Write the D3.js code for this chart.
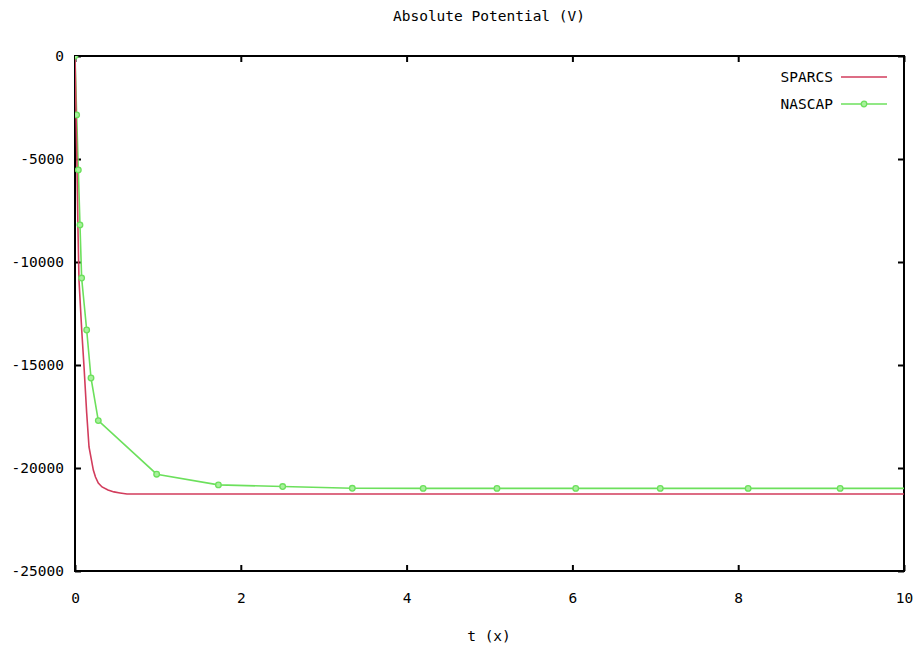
<!DOCTYPE html>
<html>
<head>
<meta charset="utf-8">
<script src="https://cdn.jsdelivr.net/npm/d3@7"></script>
<style>
  body { margin: 0; background: #fff; }
  text { font-family: "DejaVu Sans Mono", monospace; font-size: 14.5px; fill: #000; }
</style>
</head>
<body>
<div id="chart"></div>
<script>
// Data
const sparcsT = [0, 0.02, 0.036, 0.048, 0.081, 0.109, 0.141, 0.169, 0.221, 0.247, 0.281, 0.326, 0.398, 0.47, 0.543, 0.627, 10];
const sparcsV = [0, -4400, -8450, -10870, -13300, -15100, -17330, -18980, -20100, -20440, -20730, -20920, -21070, -21160, -21210, -21260, -21260];

const nascapT = [0, 0.02, 0.04, 0.06, 0.08, 0.141, 0.193, 0.281, 0.985, 1.73, 2.505, 3.345, 4.2, 5.09, 6.04, 7.06, 8.12, 9.23, 10.4];
const nascapV = [0, -2860, -5530, -8200, -10780, -13300, -15630, -17700, -20300, -20820, -20900, -20985, -20990, -20990, -20990, -20990, -20990, -20990, -20990];

const xTicks = [0, 2, 4, 6, 8, 10];
const yTicks = [0, -5000, -10000, -15000, -20000, -25000];
const seriesNames = ['SPARCS', 'NASCAP'];
const colors = ['#d23c5c', '#6ce05c'];

// Layout
const W = 918, H = 654;
const margin = { top: 56, right: 14, bottom: 83, left: 75 };
const width = W - margin.left - margin.right;
const height = H - margin.top - margin.bottom;

const svg = d3.select('#chart')
    .append('svg')
    .attr('width', W)
    .attr('height', H);

const g = svg.append('g')
    .attr('transform', `translate(${margin.left}, ${margin.top})`);

const xScale = d3.scaleLinear().domain([0, 10]).range([0, width]);
const yScale = d3.scaleLinear().domain([-25000, 0]).range([height, 0]);

// Clip path for the plot area
svg.append('defs').append('clipPath').attr('id', 'clip')
    .append('rect').attr('x', 0).attr('y', 0).attr('width', width).attr('height', height);

// Ticks on all four sides, pointing inward (gnuplot style)
const tickLen = 6;
g.append('g').attr('transform', `translate(0, ${height})`)
    .call(d3.axisBottom(xScale).tickValues(xTicks).tickSize(-tickLen).tickPadding(22).tickFormat(d3.format('d')));
g.append('g')
    .call(d3.axisTop(xScale).tickValues(xTicks).tickSize(-tickLen).tickFormat(''));
g.append('g')
    .call(d3.axisLeft(yScale).tickValues(yTicks).tickSize(-tickLen).tickPadding(11).tickFormat(d => d3.format('d')(d).replace('−', '-')));
g.append('g').attr('transform', `translate(${width}, 0)`)
    .call(d3.axisRight(yScale).tickValues(yTicks).tickSize(-tickLen).tickFormat(''));

g.selectAll('.domain').remove();
g.selectAll('.tick line').attr('stroke', '#000').attr('stroke-width', 2);
g.selectAll('.tick text').style('font-family', '"DejaVu Sans Mono", monospace').style('font-size', '14.5px').attr('fill', '#000');

// Frame
g.append('rect')
    .attr('x', 0).attr('y', 0)
    .attr('width', width).attr('height', height)
    .attr('fill', 'none')
    .attr('stroke', '#000')
    .attr('stroke-width', 2);

// Lines
const line = d3.line().x(d => xScale(d[0])).y(d => yScale(d[1]));
const sparcs = sparcsT.map((t, i) => [t, sparcsV[i]]);
const nascap = nascapT.map((t, i) => [t, nascapV[i]]);

const plot = g.append('g').attr('clip-path', 'url(#clip)');

plot.append('path')
    .datum(nascap)
    .attr('d', line)
    .attr('fill', 'none')
    .attr('stroke', colors[1])
    .attr('stroke-width', 1.6);

plot.append('path')
    .datum(sparcs)
    .attr('d', line)
    .attr('fill', 'none')
    .attr('stroke', colors[0])
    .attr('stroke-width', 1.6);

// NASCAP markers
plot.selectAll('.pt')
    .data(nascap)
    .enter().append('circle')
    .attr('class', 'pt')
    .attr('cx', d => xScale(d[0]))
    .attr('cy', d => yScale(d[1]))
    .attr('r', 2.8)
    .attr('fill', '#a8f09c')
    .attr('stroke', colors[1])
    .attr('stroke-width', 1.3);

// Legend
const legend = g.append('g').attr('transform', `translate(${width - 63}, 21)`);
seriesNames.forEach((name, i) => {
    const row = legend.append('g').attr('transform', `translate(0, ${i * 27})`);
    row.append('text')
        .text(name)
        .attr('x', -8)
        .attr('y', 0)
        .attr('dy', '0.35em')
        .attr('text-anchor', 'end');
    row.append('line')
        .attr('x1', 0).attr('x2', 46)
        .attr('y1', 0).attr('y2', 0)
        .attr('stroke', colors[i])
        .attr('stroke-width', 1.6);
    if (i === 1) {
        row.append('circle')
            .attr('cx', 23).attr('cy', 0).attr('r', 2.8)
            .attr('fill', '#a8f09c')
            .attr('stroke', colors[1])
            .attr('stroke-width', 1.3);
    }
});

// Title and axis label
svg.append('text')
    .text('Absolute Potential (V)')
    .attr('x', 489)
    .attr('y', 21)
    .attr('text-anchor', 'middle');

svg.append('text')
    .text('t (x)')
    .attr('x', 489)
    .attr('y', 641)
    .attr('text-anchor', 'middle');
</script>
</body>
</html>
